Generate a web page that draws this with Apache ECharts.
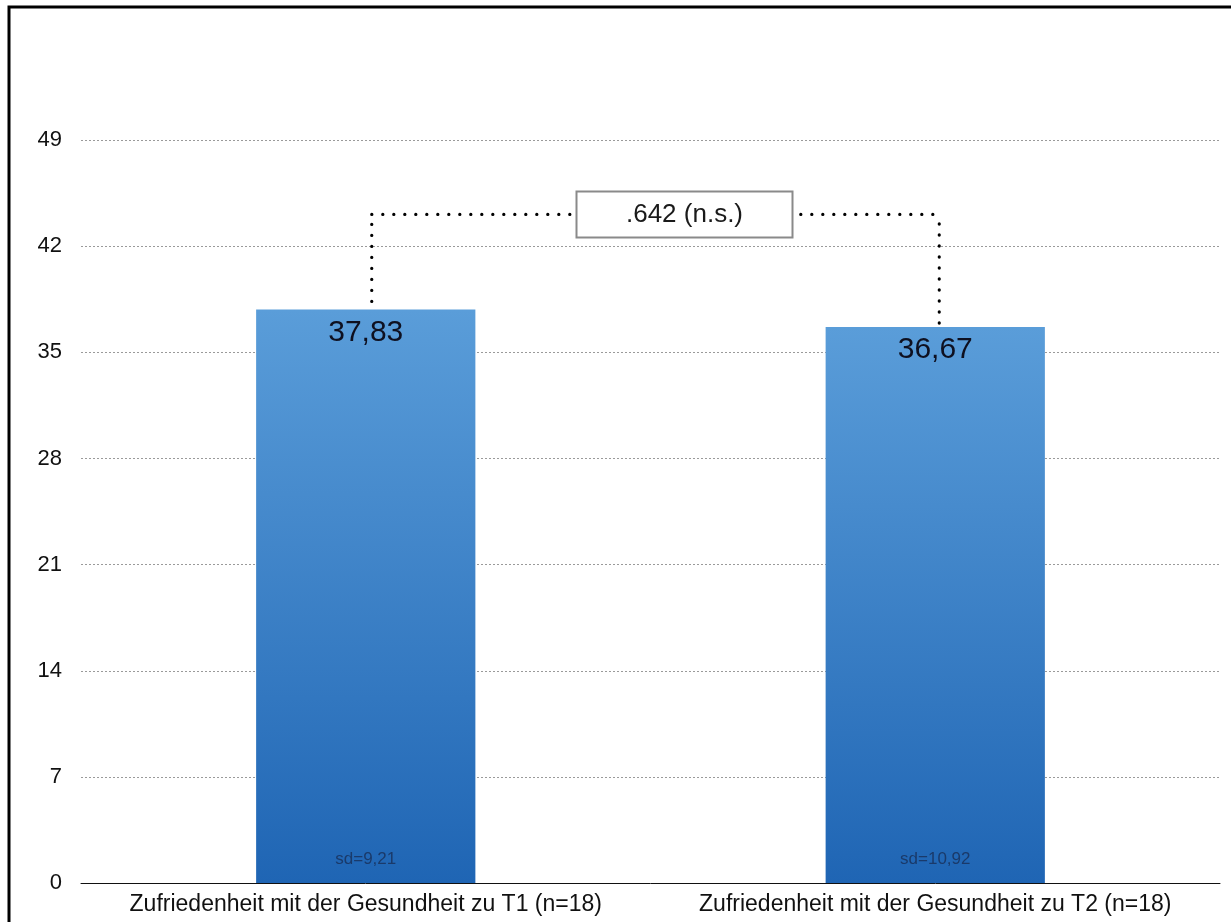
<!DOCTYPE html>
<html>
<head>
<meta charset="utf-8">
<script src="https://cdn.jsdelivr.net/npm/echarts@6/dist/echarts.min.js"></script>
<style>
  html, body { margin: 0; padding: 0; background: #fff; }
  #chart { width: 1231px; height: 922px; }
</style>
</head>
<body>
<div id="chart"></div>
<script>
// Mean satisfaction with health at two time points
const categories = [
  'Zufriedenheit mit der Gesundheit zu T1 (n=18)',
  'Zufriedenheit mit der Gesundheit zu T2 (n=18)'
];
const means = [37.83, 36.67];
const meanLabels = ['37,83', '36,67'];
const sdLabels = ['sd=9,21', 'sd=10,92'];
const yTicks = [0, 7, 14, 21, 28, 35, 42, 49];
const pValueText = '.642 (n.s.)';
const bracketLevel = 44.1;

const FONT = '"Liberation Sans", Arial, Helvetica, sans-serif';

const chart = echarts.init(document.getElementById('chart'), null, { renderer: 'canvas' });

const barGradient = new echarts.graphic.LinearGradient(0, 0, 0, 1, [
  { offset: 0, color: '#5a9dd9' },
  { offset: 1, color: '#1f65b4' }
]);

const option = {
  animation: false,
  backgroundColor: '#ffffff',
  grid: { left: 81, right: 11, top: 34, bottom: 39, containLabel: false },
  xAxis: {
    type: 'category',
    data: categories,
    axisLine: { show: true, lineStyle: { color: '#111', width: 1 } },
    axisTick: { show: false },
    axisLabel: { color: '#111', fontFamily: FONT, fontSize: 23, margin: 10, interval: 0 },
    splitLine: { show: false }
  },
  yAxis: {
    type: 'value',
    min: 0,
    max: 56,
    interval: 7,
    axisLine: { show: false },
    axisTick: { show: false },
    axisLabel: {
      color: '#111', fontFamily: FONT, fontSize: 22, margin: 19,
      showMaxLabel: false,
      formatter: v => (yTicks.indexOf(v) >= 0 ? String(v) : '')
    },
    splitLine: {
      show: true,
      showMinLine: false,
      showMaxLine: false,
      lineStyle: { color: '#9a9a9a', type: [2, 2], width: 1 }
    }
  },
  series: [
    {
      name: 'mean',
      type: 'bar',
      barWidth: '38.5%',
      data: means.map(v => ({ value: v })),
      itemStyle: { color: barGradient },
      label: {
        show: true,
        position: 'insideTop',
        distance: 8,
        color: '#0e1020',
        fontFamily: FONT,
        fontSize: 30,
        formatter: p => meanLabels[p.dataIndex]
      },
      z: 2
    },
    {
      // sd annotation anchored at the bar foot
      name: 'sd',
      type: 'bar',
      barGap: '-100%',
      barWidth: '38.5%',
      data: means.map(v => ({ value: v })),
      itemStyle: { color: 'rgba(0,0,0,0)' },
      label: {
        show: true,
        position: 'insideBottom',
        distance: 15,
        color: '#1a3a6a',
        fontFamily: FONT,
        fontSize: 17,
        formatter: p => sdLabels[p.dataIndex]
      },
      silent: true,
      z: 3
    }
  ]
};

chart.setOption(option);

// Significance bracket and frame, placed through the grid's coordinate system
function drawOverlay() {
  const pL = chart.convertToPixel({ gridIndex: 0 }, [0, bracketLevel]);
  const pR = chart.convertToPixel({ gridIndex: 0 }, [1, bracketLevel]);
  const topL = chart.convertToPixel({ gridIndex: 0 }, [0, means[0]]);
  const topR = chart.convertToPixel({ gridIndex: 0 }, [1, means[1]]);

  const xL = pL[0] + 6;
  const xR = pR[0] + 4;
  const y = pL[1];
  const boxW = 216, boxH = 46;
  const boxCx = (xL + xR) / 2 + 29;

  const dotted = {
    stroke: '#000',
    lineWidth: 3.2,
    lineDash: [0.1, 10.9],
    lineCap: 'round',
    fill: null
  };

  chart.setOption({
    graphic: [
      {
        type: 'polyline',
        shape: { points: [[xL, topL[1] - 8], [xL, y]] },
        style: dotted,
        z: 10
      },
      {
        type: 'polyline',
        shape: { points: [[xL, y], [xR, y]] },
        style: dotted,
        z: 10
      },
      {
        type: 'polyline',
        shape: { points: [[xR, topR[1] - 4], [xR, y]] },
        style: dotted,
        z: 10
      },
      {
        type: 'rect',
        shape: { x: boxCx - boxW / 2, y: y - boxH / 2, width: boxW, height: boxH },
        style: { fill: '#fff', stroke: '#8a8a8a', lineWidth: 2 },
        z: 11
      },
      {
        type: 'text',
        x: boxCx,
        y: y,
        style: {
          text: pValueText,
          fill: '#1a1a1a',
          font: '26px ' + FONT,
          align: 'center',
          verticalAlign: 'middle'
        },
        z: 12
      },
      {
        type: 'polyline',
        shape: { points: [[9, 922], [9, 7], [1231, 7]] },
        style: { stroke: '#000', lineWidth: 3, fill: null },
        z: 20
      }
    ]
  });
}

drawOverlay();
</script>
</body>
</html>
